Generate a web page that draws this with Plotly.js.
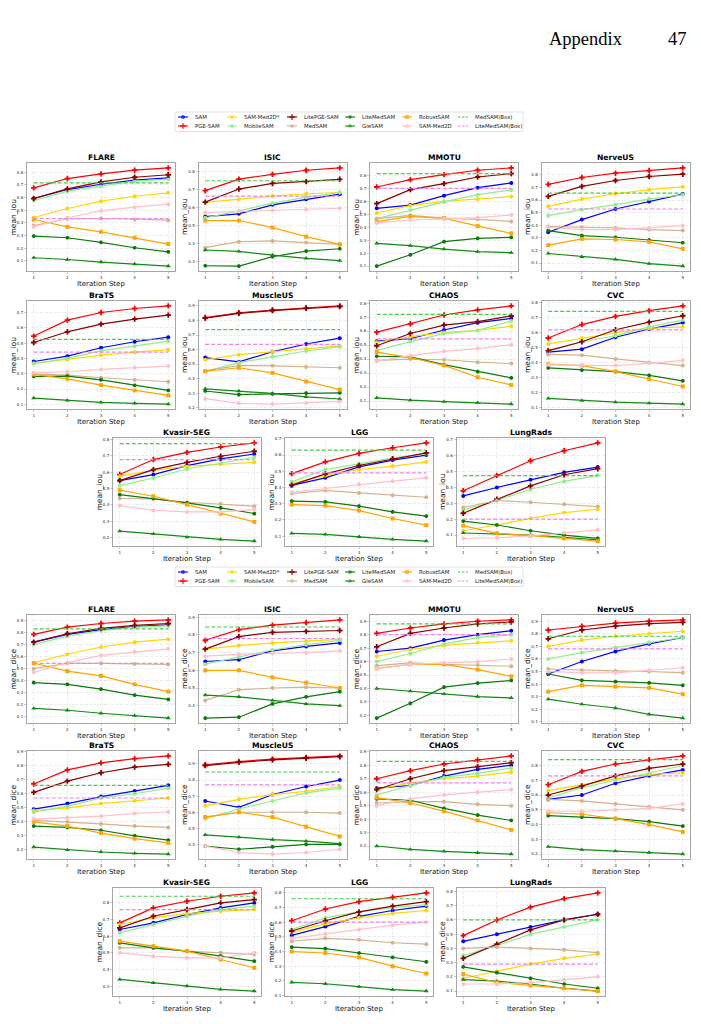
<!DOCTYPE html>
<html>
<head>
<meta charset="utf-8">
<script src="https://cdn.plot.ly/plotly-3.0.1.min.js"></script>
<style>
  html, body { margin: 0; padding: 0; background: #fff; }
  #chart { width: 701px; height: 1024px; }
</style>
</head>
<body>
<div id="chart"></div>
<script>
// ---- data -------------------------------------------------------------
const steps = [1, 2, 3, 4, 5];
const datasets = ['FLARE', 'ISIC', 'MMOTU', 'NerveUS', 'BraTS', 'MuscleUS', 'CHAOS', 'CVC', 'Kvasir-SEG', 'LGG', 'LungRads'];
const methods = ['SAM', 'PGE-SAM', 'SAM-Med2D*', 'MobileSAM', 'LitePGE-SAM', 'MedSAM', 'LiteMedSAM', 'GleSAM', 'RobustSAM', 'SAM-Med2D'];
const boxMethods = ['MedSAM(Box)', 'LiteMedSAM(Box)'];

// mean IoU per dataset (rows follow `datasets`), five iteration steps each
const iouSAM = [
  [0.592, 0.663, 0.705, 0.737, 0.755], [0.550, 0.565, 0.615, 0.646, 0.674], [0.545, 0.570, 0.642, 0.704, 0.740],
  [0.345, 0.445, 0.529, 0.589, 0.647], [0.380, 0.415, 0.470, 0.509, 0.539], [0.545, 0.515, 0.585, 0.638, 0.678],
  [0.528, 0.545, 0.608, 0.660, 0.690], [0.470, 0.490, 0.570, 0.625, 0.668], [0.549, 0.586, 0.641, 0.682, 0.712],
  [0.413, 0.460, 0.527, 0.569, 0.600], [0.346, 0.399, 0.447, 0.494, 0.527]];
const iouPGE = [
  [0.676, 0.750, 0.787, 0.816, 0.834], [0.693, 0.757, 0.783, 0.806, 0.819], [0.709, 0.766, 0.804, 0.838, 0.856],
  [0.724, 0.779, 0.813, 0.834, 0.855], [0.546, 0.650, 0.700, 0.726, 0.743], [0.820, 0.853, 0.872, 0.887, 0.900],
  [0.592, 0.652, 0.715, 0.752, 0.780], [0.565, 0.655, 0.710, 0.748, 0.780], [0.586, 0.678, 0.722, 0.755, 0.780],
  [0.486, 0.558, 0.610, 0.645, 0.675], [0.378, 0.475, 0.567, 0.630, 0.679]];
const iouSAMMed2DStar = [
  [0.442, 0.513, 0.571, 0.610, 0.637], [0.628, 0.646, 0.663, 0.676, 0.683], [0.509, 0.565, 0.599, 0.617, 0.635],
  [0.550, 0.608, 0.650, 0.682, 0.705], [0.367, 0.393, 0.422, 0.441, 0.457], [0.530, 0.565, 0.585, 0.605, 0.625],
  [0.520, 0.560, 0.590, 0.605, 0.635], [0.525, 0.565, 0.600, 0.630, 0.640], [0.576, 0.612, 0.637, 0.651, 0.661],
  [0.425, 0.474, 0.511, 0.532, 0.558], [0.127, 0.163, 0.205, 0.241, 0.262]];
const iouMobileSAM = [
  [0.576, 0.650, 0.690, 0.729, 0.745], [0.543, 0.581, 0.624, 0.656, 0.683], [0.465, 0.532, 0.594, 0.650, 0.686],
  [0.476, 0.524, 0.563, 0.608, 0.642], [0.367, 0.400, 0.450, 0.480, 0.513], [0.450, 0.510, 0.550, 0.590, 0.620],
  [0.462, 0.525, 0.582, 0.605, 0.672], [0.475, 0.540, 0.580, 0.640, 0.685], [0.518, 0.565, 0.620, 0.657, 0.692],
  [0.435, 0.511, 0.546, 0.583, 0.608], [0.258, 0.317, 0.388, 0.437, 0.475]];
const iouLitePGE = [
  [0.592, 0.668, 0.724, 0.760, 0.780], [0.630, 0.702, 0.733, 0.743, 0.756], [0.581, 0.689, 0.735, 0.786, 0.812],
  [0.629, 0.708, 0.755, 0.787, 0.805], [0.504, 0.574, 0.624, 0.657, 0.683], [0.816, 0.849, 0.868, 0.884, 0.896],
  [0.495, 0.583, 0.643, 0.668, 0.708], [0.480, 0.540, 0.620, 0.671, 0.714], [0.549, 0.616, 0.661, 0.698, 0.729],
  [0.415, 0.484, 0.536, 0.577, 0.614], [0.237, 0.325, 0.409, 0.479, 0.517]];
const iouMedSAM = [
  [0.379, 0.432, 0.434, 0.426, 0.421], [0.378, 0.411, 0.415, 0.406, 0.396], [0.465, 0.491, 0.470, 0.460, 0.444],
  [0.390, 0.384, 0.379, 0.366, 0.358], [0.298, 0.291, 0.274, 0.259, 0.248], [0.455, 0.490, 0.488, 0.480, 0.475],
  [0.390, 0.400, 0.395, 0.378, 0.368], [0.455, 0.450, 0.425, 0.400, 0.380], [0.439, 0.437, 0.416, 0.406, 0.392],
  [0.363, 0.382, 0.367, 0.353, 0.340], [0.273, 0.317, 0.306, 0.294, 0.279]];
const iouLiteMedSAM = [
  [0.295, 0.282, 0.245, 0.203, 0.171], [0.278, 0.276, 0.328, 0.359, 0.372], [0.100, 0.187, 0.288, 0.313, 0.321],
  [0.358, 0.318, 0.305, 0.282, 0.261], [0.282, 0.285, 0.260, 0.224, 0.191], [0.315, 0.290, 0.295, 0.300, 0.302],
  [0.420, 0.415, 0.360, 0.310, 0.265], [0.365, 0.350, 0.340, 0.315, 0.278], [0.463, 0.439, 0.412, 0.382, 0.347],
  [0.316, 0.312, 0.285, 0.250, 0.224], [0.188, 0.163, 0.127, 0.100, 0.079]];
const iouGleSAM = [
  [0.124, 0.110, 0.090, 0.074, 0.058], [0.365, 0.357, 0.337, 0.319, 0.306], [0.275, 0.257, 0.231, 0.211, 0.203],
  [0.176, 0.150, 0.129, 0.095, 0.076], [0.141, 0.126, 0.113, 0.107, 0.102], [0.330, 0.315, 0.298, 0.275, 0.260],
  [0.123, 0.106, 0.095, 0.088, 0.078], [0.160, 0.145, 0.135, 0.128, 0.122], [0.239, 0.222, 0.202, 0.188, 0.178],
  [0.117, 0.111, 0.096, 0.080, 0.070], [0.113, 0.108, 0.100, 0.085, 0.070]];
const iouRobustSAM = [
  [0.426, 0.368, 0.329, 0.282, 0.232], [0.528, 0.528, 0.489, 0.439, 0.396], [0.442, 0.483, 0.468, 0.408, 0.352],
  [0.242, 0.292, 0.287, 0.268, 0.213], [0.296, 0.267, 0.226, 0.191, 0.159], [0.450, 0.475, 0.440, 0.380, 0.325],
  [0.450, 0.410, 0.355, 0.270, 0.215], [0.390, 0.380, 0.340, 0.290, 0.240], [0.490, 0.453, 0.402, 0.347, 0.296],
  [0.295, 0.289, 0.258, 0.209, 0.168], [0.159, 0.111, 0.096, 0.079, 0.062]];
const iouSAMMed2D = [
  [0.366, 0.440, 0.495, 0.524, 0.547], [0.572, 0.578, 0.583, 0.591, 0.596], [0.432, 0.455, 0.462, 0.473, 0.493],
  [0.384, 0.366, 0.366, 0.379, 0.397], [0.307, 0.313, 0.328, 0.341, 0.350], [0.262, 0.230, 0.225, 0.232, 0.243],
  [0.385, 0.425, 0.455, 0.475, 0.503], [0.385, 0.380, 0.380, 0.395, 0.415], [0.396, 0.367, 0.357, 0.357, 0.371],
  [0.371, 0.394, 0.420, 0.439, 0.460], [0.079, 0.083, 0.094, 0.115, 0.132]];
const iouMedSAMBox = [0.716, 0.748, 0.812, 0.655, 0.524, 0.737, 0.720, 0.744, 0.775, 0.630, 0.473];
const iouLiteMedSAMBox = [0.434, 0.663, 0.699, 0.529, 0.441, 0.636, 0.545, 0.620, 0.678, 0.490, 0.200];

// mean Dice per dataset
const diceSAM = [
  [0.720, 0.785, 0.825, 0.850, 0.865], [0.650, 0.660, 0.710, 0.735, 0.755], [0.675, 0.700, 0.760, 0.800, 0.830],
  [0.480, 0.580, 0.660, 0.720, 0.770], [0.490, 0.530, 0.580, 0.620, 0.660], [0.670, 0.630, 0.710, 0.760, 0.800],
  [0.630, 0.650, 0.720, 0.770, 0.800], [0.570, 0.600, 0.680, 0.730, 0.770], [0.640, 0.680, 0.730, 0.770, 0.800],
  [0.510, 0.570, 0.640, 0.680, 0.710], [0.450, 0.500, 0.550, 0.600, 0.640]];
const dicePGE = [
  [0.785, 0.845, 0.875, 0.895, 0.905], [0.770, 0.830, 0.855, 0.870, 0.885], [0.810, 0.850, 0.880, 0.900, 0.910],
  [0.830, 0.860, 0.885, 0.900, 0.910], [0.670, 0.770, 0.820, 0.850, 0.870], [0.895, 0.915, 0.930, 0.940, 0.950],
  [0.700, 0.760, 0.810, 0.840, 0.870], [0.670, 0.760, 0.810, 0.840, 0.865], [0.680, 0.770, 0.810, 0.840, 0.860],
  [0.610, 0.690, 0.740, 0.770, 0.800], [0.490, 0.600, 0.690, 0.750, 0.790]];
const diceSAMMed2DStar = [
  [0.550, 0.620, 0.680, 0.720, 0.745], [0.720, 0.740, 0.755, 0.765, 0.775], [0.640, 0.690, 0.720, 0.740, 0.755],
  [0.700, 0.750, 0.780, 0.800, 0.820], [0.480, 0.500, 0.530, 0.550, 0.570], [0.640, 0.680, 0.710, 0.730, 0.760],
  [0.620, 0.670, 0.700, 0.720, 0.750], [0.630, 0.670, 0.710, 0.740, 0.750], [0.670, 0.710, 0.735, 0.750, 0.760],
  [0.530, 0.590, 0.630, 0.660, 0.680], [0.190, 0.240, 0.290, 0.330, 0.360]];
const diceMobileSAM = [
  [0.700, 0.770, 0.815, 0.845, 0.855], [0.635, 0.675, 0.715, 0.745, 0.770], [0.600, 0.660, 0.730, 0.780, 0.800],
  [0.600, 0.650, 0.690, 0.730, 0.770], [0.470, 0.510, 0.570, 0.600, 0.640], [0.560, 0.620, 0.670, 0.720, 0.750],
  [0.580, 0.650, 0.710, 0.740, 0.780], [0.580, 0.650, 0.700, 0.750, 0.800], [0.620, 0.670, 0.720, 0.760, 0.780],
  [0.550, 0.630, 0.670, 0.700, 0.720], [0.350, 0.420, 0.500, 0.550, 0.600]];
const diceLitePGE = [
  [0.720, 0.790, 0.835, 0.860, 0.875], [0.720, 0.790, 0.815, 0.820, 0.825], [0.710, 0.810, 0.850, 0.880, 0.895],
  [0.760, 0.830, 0.860, 0.880, 0.890], [0.610, 0.690, 0.750, 0.790, 0.810], [0.890, 0.910, 0.925, 0.935, 0.945],
  [0.620, 0.700, 0.760, 0.790, 0.820], [0.600, 0.660, 0.730, 0.780, 0.810], [0.650, 0.720, 0.760, 0.800, 0.820],
  [0.540, 0.610, 0.670, 0.710, 0.740], [0.330, 0.430, 0.530, 0.600, 0.640]];
const diceMedSAM = [
  [0.500, 0.545, 0.545, 0.540, 0.535], [0.430, 0.490, 0.500, 0.505, 0.500], [0.570, 0.590, 0.580, 0.575, 0.565],
  [0.520, 0.510, 0.505, 0.500, 0.490], [0.410, 0.400, 0.385, 0.370, 0.360], [0.570, 0.600, 0.600, 0.600, 0.595],
  [0.520, 0.530, 0.530, 0.510, 0.500], [0.570, 0.560, 0.540, 0.520, 0.500], [0.530, 0.530, 0.510, 0.500, 0.490],
  [0.470, 0.490, 0.480, 0.460, 0.450], [0.400, 0.410, 0.400, 0.390, 0.370]];
const diceLiteMedSAM = [
  [0.385, 0.370, 0.330, 0.280, 0.245], [0.330, 0.335, 0.410, 0.450, 0.480], [0.180, 0.290, 0.410, 0.440, 0.460],
  [0.480, 0.430, 0.420, 0.410, 0.390], [0.370, 0.360, 0.340, 0.300, 0.270], [0.390, 0.370, 0.385, 0.400, 0.400],
  [0.550, 0.540, 0.480, 0.430, 0.390], [0.460, 0.450, 0.440, 0.420, 0.390], [0.560, 0.530, 0.510, 0.480, 0.450],
  [0.430, 0.420, 0.390, 0.360, 0.330], [0.270, 0.230, 0.190, 0.150, 0.120]];
const diceGleSAM = [
  [0.170, 0.155, 0.130, 0.110, 0.090], [0.460, 0.450, 0.430, 0.410, 0.400], [0.400, 0.380, 0.360, 0.340, 0.330],
  [0.280, 0.240, 0.210, 0.160, 0.130], [0.220, 0.200, 0.185, 0.175, 0.170], [0.460, 0.445, 0.430, 0.420, 0.405],
  [0.200, 0.175, 0.160, 0.150, 0.140], [0.250, 0.230, 0.220, 0.210, 0.200], [0.340, 0.320, 0.300, 0.280, 0.270],
  [0.190, 0.180, 0.160, 0.140, 0.130], [0.180, 0.170, 0.150, 0.120, 0.100]];
const diceRobustSAM = [
  [0.545, 0.480, 0.440, 0.370, 0.310], [0.600, 0.600, 0.560, 0.530, 0.500], [0.550, 0.580, 0.580, 0.540, 0.490],
  [0.340, 0.390, 0.380, 0.370, 0.320], [0.400, 0.370, 0.320, 0.280, 0.250], [0.570, 0.600, 0.570, 0.510, 0.450],
  [0.560, 0.520, 0.460, 0.390, 0.320], [0.480, 0.470, 0.440, 0.400, 0.350], [0.570, 0.540, 0.510, 0.460, 0.410],
  [0.400, 0.390, 0.360, 0.300, 0.250], [0.220, 0.160, 0.140, 0.120, 0.100]];
const diceSAMMed2D = [
  [0.470, 0.550, 0.610, 0.640, 0.665], [0.680, 0.690, 0.695, 0.700, 0.710], [0.550, 0.580, 0.590, 0.600, 0.620],
  [0.500, 0.490, 0.490, 0.510, 0.530], [0.420, 0.430, 0.440, 0.460, 0.470], [0.390, 0.350, 0.340, 0.350, 0.370],
  [0.500, 0.550, 0.580, 0.600, 0.620], [0.490, 0.490, 0.500, 0.510, 0.540], [0.500, 0.480, 0.470, 0.470, 0.500],
  [0.490, 0.520, 0.550, 0.580, 0.600], [0.150, 0.150, 0.160, 0.180, 0.200]];
const diceMedSAMBox = [0.830, 0.845, 0.880, 0.780, 0.660, 0.850, 0.830, 0.840, 0.840, 0.760, 0.600];
const diceLiteMedSAMBox = [0.545, 0.780, 0.800, 0.680, 0.570, 0.770, 0.670, 0.730, 0.760, 0.600, 0.290];

// ---- styles -------------------------------------------------------------
const colors = ['#0000ff', '#ff0000', '#ffd700', '#90ee90', '#8b0000', '#d2b48c', '#0b7a0b', '#118a11', '#ffa500', '#ffc0cb'];
const symbols = ['circle', 'cross', 'circle', 'circle', 'cross', 'circle', 'octagon', 'triangle-up', 'square', 'circle'];
const sizes = [4, 4.5, 4, 4, 4.5, 4, 4, 4.5, 4, 4];
const boxColors = ['#46cc46', '#ee82ee'];

const iouSeries = [iouSAM, iouPGE, iouSAMMed2DStar, iouMobileSAM, iouLitePGE, iouMedSAM, iouLiteMedSAM, iouGleSAM, iouRobustSAM, iouSAMMed2D];
const diceSeries = [diceSAM, dicePGE, diceSAMMed2DStar, diceMobileSAM, diceLitePGE, diceMedSAM, diceLiteMedSAM, diceGleSAM, diceRobustSAM, diceSAMMed2D];

// ---- page geometry (pixels) ---------------------------------------------
const PAGE_W = 701, PAGE_H = 1024;
const PW = 148, PH = 108;
const lefts4 = [27, 198.5, 370, 541.5];
const lefts3 = [113, 285, 456.5];
const iouTops = [163, 301, 438];
const diceTops = [615, 751, 888];
const FONT = 'DejaVu Sans';

const px = x => x / PAGE_W;
const py = y => 1 - y / PAGE_H;

const traces = [];
const annotations = [];
const shapes = [];
const layout = {
  width: PAGE_W, height: PAGE_H,
  margin: {l: 0, r: 0, t: 0, b: 0},
  paper_bgcolor: '#ffffff', plot_bgcolor: 'rgba(0,0,0,0)',
  showlegend: false,
  font: {family: FONT, color: '#000'},
  annotations, shapes
};

function panelPos(i, tops) {
  const row = i < 4 ? 0 : (i < 8 ? 1 : 2);
  const col = i < 8 ? i % 4 : i - 8;
  return {left: row < 2 ? lefts4[col] : lefts3[col], top: tops[row]};
}

function axisKeys(n) {
  return {
    xk: n === 1 ? 'xaxis' : 'xaxis' + n, yk: n === 1 ? 'yaxis' : 'yaxis' + n,
    xr: n === 1 ? 'x' : 'x' + n, yr: n === 1 ? 'y' : 'y' + n
  };
}

function addBlock(series, medBox, liteBox, tops, offset, ylabel) {
  datasets.forEach((name, i) => {
    const n = offset + i + 1;
    const {xk, yk, xr, yr} = axisKeys(n);
    const {left, top} = panelPos(i, tops);
    let all = [];
    series.forEach((s, k) => {
      all = all.concat(s[i]);
      traces.push({
        type: 'scatter', mode: 'lines+markers', name: methods[k],
        x: steps, y: s[i], xaxis: xr, yaxis: yr,
        line: {color: colors[k], width: 1.2},
        marker: {color: colors[k], symbol: symbols[k], size: sizes[k], line: {width: 0}},
        hoverinfo: 'skip', cliponaxis: false
      });
    });
    [medBox, liteBox].forEach((b, k) => {
      all.push(b[i]);
      traces.push({
        type: 'scatter', mode: 'lines', name: boxMethods[k],
        x: [steps[0], steps[steps.length - 1]], y: [b[i], b[i]], xaxis: xr, yaxis: yr,
        line: {color: boxColors[k], width: 1.2, dash: '4px,2px'},
        hoverinfo: 'skip'
      });
    });
    const lo = Math.min(...all), hi = Math.max(...all), pad = 0.05 * (hi - lo);
    const common = {
      showgrid: true, gridcolor: '#cfcfcf', gridwidth: 0.6, griddash: '1px,1.5px',
      showline: true, mirror: true, linecolor: '#a6a6a6', linewidth: 1,
      zeroline: false, ticks: 'outside', ticklen: 2, tickcolor: '#a6a6a6', tickwidth: 0.6,
      tickfont: {family: FONT, size: 4, color: '#222'}, fixedrange: true
    };
    layout[xk] = Object.assign({}, common, {
      domain: [px(left), px(left + PW)], anchor: yr,
      range: [0.8, 5.2], tickmode: 'array', tickvals: steps
    });
    layout[yk] = Object.assign({}, common, {
      domain: [py(top + PH), py(top)], anchor: xr,
      range: [lo - pad, hi + pad], tickmode: 'linear', tick0: 0, dtick: 0.1, tickformat: '.1f'
    });
    annotations.push({
      xref: 'paper', yref: 'paper', x: px(left + PW / 2), y: py(top - 5.5),
      xanchor: 'center', yanchor: 'middle', showarrow: false,
      text: '<b>' + name + '</b>', font: {family: FONT, size: 7.6, color: '#000'}
    });
    annotations.push({
      xref: 'paper', yref: 'paper', x: px(left + PW / 2), y: py(top + PH + 13),
      xanchor: 'center', yanchor: 'middle', showarrow: false,
      text: 'Iteration Step', font: {family: FONT, size: 7, color: '#111'}
    });
    annotations.push({
      xref: 'paper', yref: 'paper', x: px(left - 14.5), y: py(top + PH / 2),
      xanchor: 'center', yanchor: 'middle', showarrow: false, textangle: -90,
      text: ylabel, font: {family: FONT, size: 7.5, color: '#111'}
    });
  });
}

addBlock(iouSeries, iouMedSAMBox, iouLiteMedSAMBox, iouTops, 0, 'mean_iou');
addBlock(diceSeries, diceMedSAMBox, diceLiteMedSAMBox, diceTops, 11, 'mean_dice');

// ---- page-wide overlay axis used for legends ----------------------------
layout.xaxis23 = {domain: [0, 1], range: [0, PAGE_W], visible: false, fixedrange: true, anchor: 'y23'};
layout.yaxis23 = {domain: [0, 1], range: [PAGE_H, 0], visible: false, fixedrange: true, anchor: 'x23'};

const legendNames = methods.concat(boxMethods);
const legCols = [178, 227, 287, 345, 402, 458];

function addLegend(rowYs, box) {
  shapes.push({
    type: 'rect', xref: 'x23', yref: 'y23', x0: box[0], x1: box[1], y0: box[2], y1: box[3],
    line: {color: '#dcdcdc', width: 0.8}, fillcolor: 'rgba(255,255,255,0.85)', layer: 'below'
  });
  legendNames.forEach((nm, k) => {
    const c = Math.floor(k / 2), r = k % 2;
    const sx = legCols[c], y = rowYs[r];
    const isBox = k >= methods.length;
    const col = isBox ? boxColors[k - methods.length] : colors[k];
    const tr = {
      type: 'scatter', mode: isBox ? 'lines' : 'lines+markers',
      x: [sx, sx + 5, sx + 10], y: [y, y, y], xaxis: 'x23', yaxis: 'y23',
      line: {color: col, width: 1.1, dash: isBox ? '2.5px,1.5px' : 'solid'},
      hoverinfo: 'skip', showlegend: false
    };
    if (!isBox) {
      tr.marker = {color: col, symbol: symbols[k], size: [0, sizes[k], 0], line: {width: 0}};
    }
    traces.push(tr);
    annotations.push({
      xref: 'x23', yref: 'y23', x: sx + 14.5, y: y, xanchor: 'left', yanchor: 'middle',
      showarrow: false, text: nm, font: {family: FONT, size: 5.4, color: '#222'}
    });
  });
}

addLegend([117, 126], [175, 523, 112, 131.5]);
addLegend([572, 581], [175, 523, 567, 586.5]);

// ---- running page header --------------------------------------------------
annotations.push({
  xref: 'paper', yref: 'paper', x: px(547), y: py(39), xanchor: 'left', yanchor: 'middle',
  showarrow: false, text: 'Appendix', font: {family: 'Liberation Serif', size: 18.5, color: '#000'}
});
annotations.push({
  xref: 'paper', yref: 'paper', x: px(666), y: py(39), xanchor: 'left', yanchor: 'middle',
  showarrow: false, text: '47', font: {family: 'Liberation Serif', size: 18.5, color: '#000'}
});

Plotly.newPlot('chart', traces, layout, {staticPlot: true, displayModeBar: false});
</script>
</body>
</html>
